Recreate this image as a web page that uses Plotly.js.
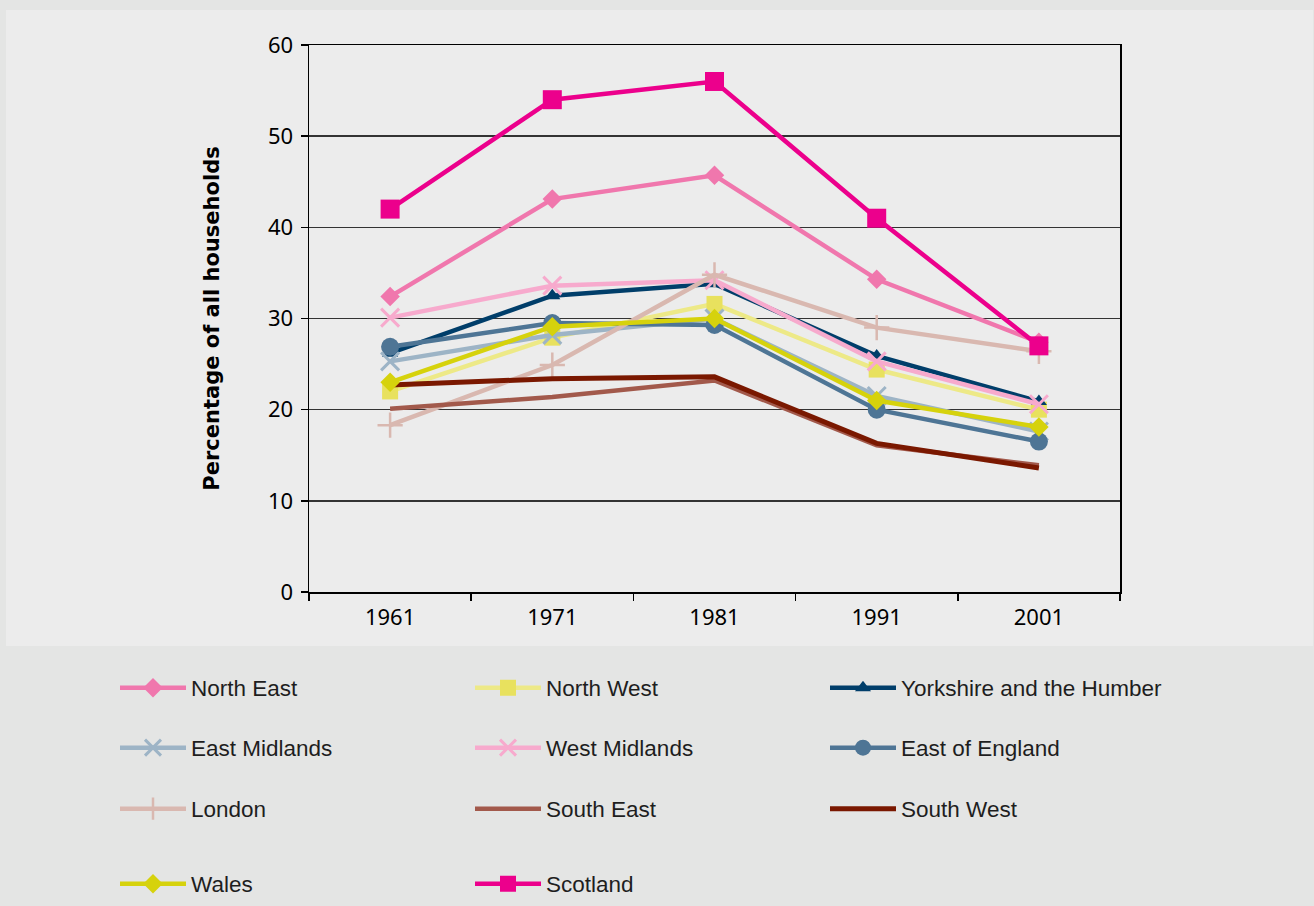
<!DOCTYPE html>
<html><head><meta charset="utf-8">
<script src="https://cdn.plot.ly/plotly-3.0.1.min.js"></script>
<style>html,body{margin:0;padding:0;background:#e4e5e4;}#chart{width:1314px;height:906px;}</style>
</head><body><div id="chart"></div>
<script>
// ---- data ----
const years = ['1961', '1971', '1981', '1991', '2001'];
const seriesNames = ['North East', 'North West', 'Yorkshire and the Humber',
  'East Midlands', 'West Midlands', 'East of England',
  'London', 'South East', 'South West', 'Wales', 'Scotland'];
const northEast = [32.4, 43.1, 45.7, 34.3, 27.4];
const northWest = [22.0, 27.9, 31.6, 24.4, 20.0];
const yorkshire = [26.2, 32.5, 33.8, 25.9, 20.9];
const eastMidlands = [25.3, 28.2, 30.0, 21.5, 17.6];
const westMidlands = [30.1, 33.6, 34.2, 25.3, 20.6];
const eastOfEngland = [26.9, 29.5, 29.3, 20.0, 16.5];
const london = [18.3, 24.9, 34.8, 29.0, 26.4];
const southEast = [20.1, 21.4, 23.2, 16.1, 13.9];
const southWest = [22.7, 23.4, 23.6, 16.3, 13.6];
const wales = [23.0, 29.1, 30.0, 21.0, 18.1];
const scotland = [42.0, 54.0, 56.0, 41.0, 27.0];
const yTitle = 'Percentage of all households';

const allValues = [northEast, northWest, yorkshire, eastMidlands, westMidlands,
  eastOfEngland, london, southEast, southWest, wales, scotland];

// ---- styles ----
const styles = [
  {line: '#f077ad', w: 4.5, sym: 'diamond', size: 15, mcol: '#f077ad'},
  {line: '#ede987', w: 4.5, sym: 'square', size: 16, mcol: '#e8e15e'},
  {line: '#003e6a', w: 4.5, sym: 'triangle-up', size: 14, mcol: '#003e6a'},
  {line: '#9db4c6', w: 4.5, sym: 'x-thin-open', size: 18, mcol: '#9db4c6', mlw: 3},
  {line: '#f7aacd', w: 4.5, sym: 'x-thin-open', size: 18, mcol: '#f7aacd', mlw: 3},
  {line: '#4e7595', w: 4.5, sym: 'circle', size: 18, mcol: '#4e7595'},
  {line: '#d9b8b0', w: 4.5, sym: 'cross-thin-open', size: 18, mcol: '#d9b8b0', mlw: 2.5},
  {line: '#a2594b', w: 4.5, sym: null},
  {line: '#7a1800', w: 5, sym: null},
  {line: '#d6d20c', w: 4.5, sym: 'diamond', size: 15, mcol: '#d6d20c'},
  {line: '#ec008c', w: 4.5, sym: 'square', size: 19, mcol: '#ec008c'}
];
const legendIds = ['legend', 'legend', 'legend', 'legend2', 'legend2', 'legend2',
  'legend3', 'legend3', 'legend3', 'legend4', 'legend4'];

const traces = allValues.map((vals, i) => {
  const s = styles[i];
  const t = {
    type: 'scatter', x: years, y: vals, name: seriesNames[i],
    mode: s.sym ? 'lines+markers' : 'lines',
    line: {color: s.line, width: s.w},
    legend: legendIds[i]
  };
  if (s.sym) {
    t.marker = {symbol: s.sym, size: s.size, color: s.mcol,
      line: {color: s.mcol, width: s.mlw || 0}};
  }
  return t;
});

// plot area in pixels
const L = 309, R = 1120, T = 45, B = 592, W = 1314, H = 906;
const px = v => (v - L) / (R - L);
const py = v => (B - v) / (B - T);

const legendFont = {family: 'Liberation Sans, Arial, sans-serif', size: 22.5, color: '#1e1e1e'};
function mkLegend(yPix) {
  return {orientation: 'h', x: px(115), xanchor: 'left', y: py(yPix), yanchor: 'middle',
    entrywidth: 274, entrywidthmode: 'pixels', itemwidth: 66,
    bgcolor: 'rgba(0,0,0,0)', font: legendFont, traceorder: 'normal'};
}

const axisFont = {family: 'Noto Sans, sans-serif', size: 22, color: '#000'};
const layout = {
  width: W, height: H,
  margin: {l: L, r: W - R, t: T, b: H - B, autoexpand: false},
  paper_bgcolor: '#e4e5e4', plot_bgcolor: '#ececec',
  showlegend: true,
  shapes: [{type: 'rect', xref: 'paper', yref: 'paper', layer: 'below',
    x0: px(6), x1: px(1313), y0: py(646), y1: py(10),
    fillcolor: '#ececec', line: {width: 0}}],
  xaxis: {type: 'category', range: [-0.5, 4.5], tickson: 'boundaries',
    ticks: 'outside', ticklen: 7, tickwidth: 1.5, tickcolor: '#000',
    ticklabelstandoff: 5,
    showline: true, linecolor: '#000', linewidth: 1.5, mirror: true,
    showgrid: false, zeroline: false, tickfont: axisFont, fixedrange: true},
  yaxis: {range: [0, 60], dtick: 10, tick0: 0,
    ticks: 'outside', ticklen: 7, tickwidth: 1.5, tickcolor: '#000',
    ticklabelstandoff: 3,
    showline: true, linecolor: '#000', linewidth: 1.5, mirror: true,
    showgrid: true, gridcolor: '#333', gridwidth: 1.5, zeroline: false,
    tickfont: axisFont, fixedrange: true,
    title: {text: yTitle, standoff: 42,
      font: {family: 'DejaVu Sans, sans-serif', size: 21, color: '#000', weight: 'bold'}}},
  legend: mkLegend(688),
  legend2: mkLegend(748),
  legend3: mkLegend(809),
  legend4: mkLegend(884)
};

Plotly.newPlot('chart', traces, layout, {displayModeBar: false, staticPlot: true});
</script>
</body></html>
